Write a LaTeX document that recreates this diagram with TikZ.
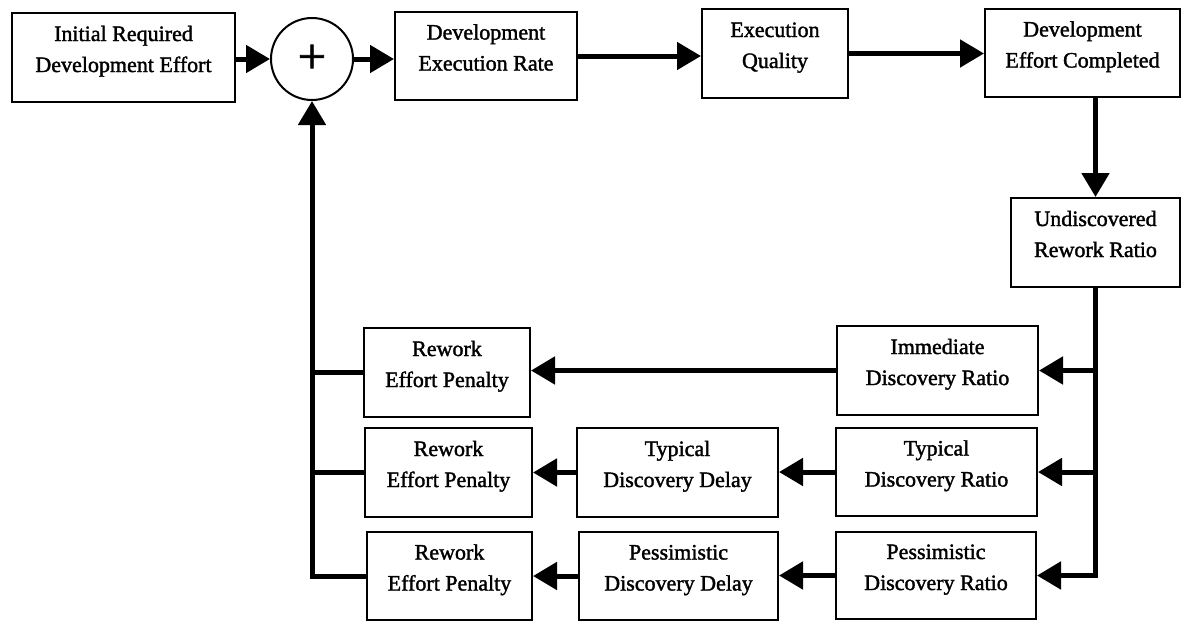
\documentclass[tikz,border=0pt]{standalone}
\usepackage{fontspec}
\setmainfont{Liberation Serif}[UprightFeatures={FakeBold=1.6}]
\usetikzlibrary{arrows.meta}

% two-line caption set in the upper part of its box
\newcommand\boxtext[1]{\raisebox{2pt}[0pt][0pt]{\begin{tabular}{@{}c@{}}#1\end{tabular}}}

\begin{document}
\begin{tikzpicture}[x=1pt,y=-1pt,
  box/.style={draw,line width=2pt,rectangle,inner sep=0pt,
    font=\fontsize{22}{31}\selectfont},
  sumnode/.style={draw,line width=2pt,circle,inner sep=0pt,minimum size=82pt},
  conn/.style={line width=5pt},
  flow/.style={conn,-{Triangle[length=24pt,width=27pt]}}]
\useasboundingbox (0,0) rectangle (1182,621);

% top row
\node[box,minimum width=223pt,minimum height=89pt] (init) at (123.5,57.5)
  {\boxtext{Initial Required\\Development Effort}};
\node[sumnode] (sum) at (312,59) {\fontsize{50}{50}\selectfont +};
\node[box,minimum width=182pt,minimum height=88pt] (der) at (486,56)
  {\boxtext{Development\\Execution Rate}};
\node[box,minimum width=146pt,minimum height=89pt] (eq) at (775,53.5)
  {\boxtext{Execution\\Quality}};
\node[box,minimum width=195pt,minimum height=88pt] (dec) at (1082.5,53)
  {\boxtext{Development\\Effort Completed}};
\node[box,minimum width=169pt,minimum height=89pt] (urr) at (1095.5,242.5)
  {\boxtext{Undiscovered\\Rework Ratio}};

% discovery ratios
\node[box,minimum width=201pt,minimum height=89pt] (idr) at (937.5,370.5)
  {\boxtext{Immediate\\Discovery Ratio}};
\node[box,minimum width=201pt,minimum height=88pt] (tdr) at (936.5,472)
  {\boxtext{Typical\\Discovery Ratio}};
\node[box,minimum width=200pt,minimum height=87pt] (pdr) at (936,575.5)
  {\boxtext{Pessimistic\\Discovery Ratio}};

% discovery delays
\node[box,minimum width=201pt,minimum height=89pt] (tdd) at (677.5,472.5)
  {\boxtext{Typical\\Discovery Delay}};
\node[box,minimum width=199pt,minimum height=88pt] (pdd) at (678.5,576)
  {\boxtext{Pessimistic\\Discovery Delay}};

% rework penalties
\node[box,minimum width=166pt,minimum height=89pt] (rep1) at (447,372.5)
  {\boxtext{Rework\\Effort Penalty}};
\node[box,minimum width=167pt,minimum height=89pt] (rep2) at (448.5,472.5)
  {\boxtext{Rework\\Effort Penalty}};
\node[box,minimum width=165pt,minimum height=88pt] (rep3) at (449.5,576)
  {\boxtext{Rework\\Effort Penalty}};

% forward chain
\draw[flow] (init.east |- sum.west) -- (sum.west);
\draw[flow] (sum.east) -- (der.west |- sum.east);
\draw[flow] (der.east) -- (eq.west |- der.east);
\draw[flow] (eq.east) -- (dec.west |- eq.east);
\draw[flow] (urr.north |- dec.south) -- (urr.north);

% distribution of undiscovered rework
\draw[flow] (urr.south) |- (pdr.east);
\draw[flow] (urr.south |- idr.east) -- (idr.east);
\draw[flow] (urr.south |- tdr.east) -- (tdr.east);

% discovery paths
\draw[flow] (idr.west) -- (rep1.east |- idr.west);
\draw[flow] (tdr.west) -- (tdd.east |- tdr.west);
\draw[flow] (tdd.west) -- (rep2.east |- tdd.west);
\draw[flow] (pdr.west) -- (pdd.east |- pdr.west);
\draw[flow] (pdd.west) -- (rep3.east |- pdd.west);

% rework fed back to the sum
\draw[flow] (rep3.west) -| (sum.south);
\draw[conn] (rep1.west) -- (sum.south |- rep1.west);
\draw[conn] (rep2.west) -- (sum.south |- rep2.west);
\end{tikzpicture}
\end{document}
